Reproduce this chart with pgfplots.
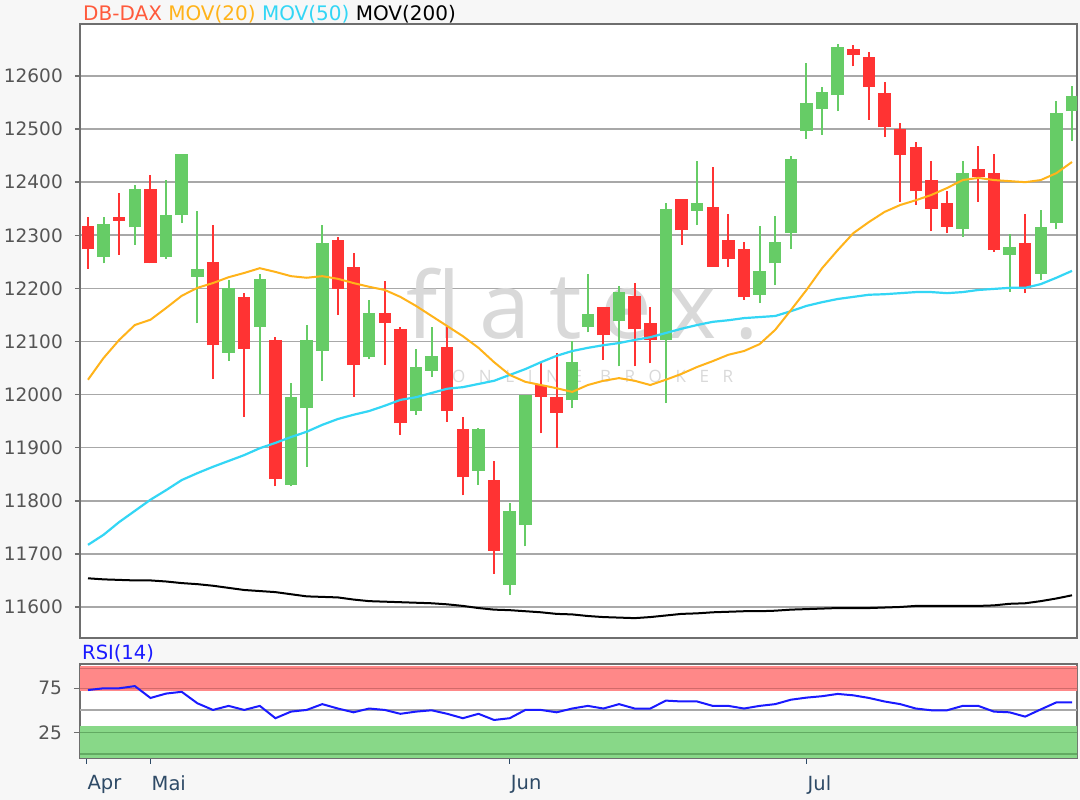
\documentclass[border=0pt]{standalone}
\usepackage{pgfplots}
\pgfplotsset{compat=1.18}
\usepackage{pgfplotstable}
\usepackage{fontspec}
\setmainfont{DejaVu Sans}
\newfontfamily\wmfont[LetterSpace=20]{Open Sans}
\newfontfamily\wmsmall[LetterSpace=80]{Open Sans}
\definecolor{bg}{HTML}{F7F7F7}
\definecolor{cgreen}{HTML}{66CC66}
\definecolor{cred}{HTML}{FF3333}
\definecolor{ma20}{HTML}{FFB31A}
\definecolor{ma50}{HTML}{33D6F5}
\definecolor{gridc}{HTML}{A8A8A8}
\definecolor{framec}{HTML}{6E6E6E}
\definecolor{tickc}{HTML}{555555}
\definecolor{xlabc}{HTML}{2E4A66}
\definecolor{ttl}{HTML}{FF5A3C}
\definecolor{rsired}{HTML}{FF8888}
\definecolor{rsiredl}{HTML}{D26A6A}
\definecolor{rsigreen}{HTML}{88D888}
\definecolor{rsigreenl}{HTML}{62AA62}
\definecolor{rsiblue}{HTML}{1A1AFF}
\definecolor{wm}{HTML}{D9D9D9}

% candles: index open high low close
\pgfplotstableread{
i o h l c
1 12260 12334 12247 12321
3 12315 12395 12282 12387
5 12259 12405 12255 12338
6 12338 12454 12323 12454
7 12222 12345 12134 12236
9 12079 12216 12064 12201
11 12127 12228 12002 12217
13 11830 12021 11827 11996
14 11974 12131 11864 12103
15 12083 12319 12026 12285
18 12070 12179 12067 12153
21 11969 12085 11962 12051
22 12045 12127 12034 12073
25 11857 11938 11830 11935
27 11641 11795 11623 11780
28 11754 11999 11714 11999
31 11989 12100 11974 12062
32 12128 12227 12117 12152
34 12139 12205 12053 12194
37 12103 12360 11984 12349
39 12346 12439 12319 12360
43 12188 12318 12172 12232
44 12247 12337 12206 12288
45 12304 12449 12274 12443
46 12497 12624 12481 12549
47 12538 12579 12489 12570
48 12564 12660 12534 12654
56 12312 12439 12297 12417
59 12263 12302 12194 12277
61 12228 12348 12215 12315
62 12323 12552 12311 12530
63 12534 12581 12478 12563
}\upcandles

\pgfplotstableread{
i o h l c
0 12318 12334 12237 12274
2 12334 12379 12263 12327
4 12387 12414 12247 12247
8 12250 12319 12029 12093
10 12183 12191 11958 12086
12 12103 12109 11827 11841
16 12292 12296 12150 12199
17 12240 12266 11996 12056
19 12153 12213 12056 12135
20 12124 12127 11924 11946
23 12089 12127 11949 11969
24 11935 11957 11810 11844
26 11840 11874 11663 11706
29 12018 12060 11927 11996
30 11995 12079 11900 11965
33 12164 12164 12066 12112
35 12186 12210 12053 12123
36 12134 12164 12059 12103
38 12368 12368 12282 12309
40 12353 12428 12241 12241
41 12292 12341 12240 12255
42 12274 12288 12179 12183
49 12650 12658 12618 12640
50 12635 12646 12518 12579
51 12567 12589 12485 12503
52 12500 12511 12363 12451
53 12466 12476 12357 12383
54 12404 12439 12308 12350
55 12360 12384 12305 12316
57 12424 12469 12363 12409
58 12417 12454 12269 12272
60 12285 12341 12191 12200
}\downcandles

% moving averages and RSI
\pgfplotstableread{
i m20 m50 m200 r
0 12028 11717 11654 73
1 12069 11736 11652 75
2 12103 11760 11651 75
3 12131 11781 11650 77.5
4 12141 11802 11650 64
5 12163 11820 11648 69
6 12186 11839 11645 71
7 12201 11852 11643 58
8 12210 11864 11640 50.4
9 12221 11875 11636 55
10 12229 11886 11632 50.4
11 12238 11899 11630 55
12 12231 11909 11628 41
13 12223 11920 11624 48.5
14 12220 11930 11620 50.4
15 12223 11943 11619 57
16 12218 11954 11618 52
17 12210 11962 11614 47.7
18 12203 11969 11611 52
19 12197 11979 11610 50.4
20 12184 11990 11609 46
21 12167 11995 11608 48.5
22 12148 12003 11607 50
23 12129 12011 11605 46
24 12110 12014 11602 41
25 12088 12020 11598 46
26 12061 12026 11595 39
27 12037 12037 11594 41
28 12024 12048 11592 50.4
29 12018 12061 11590 50.4
30 12012 12073 11587 47.7
31 12005 12082 11586 52
32 12018 12088 11583 55
33 12026 12093 11581 52
34 12031 12097 11580 57
35 12026 12103 11579 52
36 12018 12108 11581 52
37 12028 12116 11584 61
38 12039 12124 11587 60
39 12052 12131 11588 60
40 12063 12137 11590 55
41 12075 12140 11591 55
42 12082 12144 11592 52
43 12095 12146 11592 55
44 12122 12148 11593 57
45 12159 12157 11595 62
46 12197 12167 11596 64.4
47 12238 12174 11597 66
48 12272 12180 11598 68.6
49 12304 12184 11598 67
50 12325 12188 11598 64
51 12344 12189 11599 60
52 12357 12191 11600 57
53 12366 12193 11602 52
54 12376 12193 11602 50
55 12389 12191 11602 50
56 12404 12193 11602 55
57 12408 12197 11602 55
58 12404 12199 11603 48.5
59 12402 12201 11606 47.7
60 12400 12201 11607 42.8
61 12404 12208 11611 51
62 12417 12220 11616 59
63 12438 12233 11622 59
}\indic

\pgfplotsset{
  candle/.style 2 args={draw=none, no markers, forget plot,
    error bars/.cd, y dir=plus, y explicit, error mark=none,
    error bar style={draw=#1, line width=#2, line cap=butt}},
}

\begin{document}
\begin{tikzpicture}
\fill[bg] (0,0) rectangle (1080pt,800pt);

\node[anchor=base west, inner sep=0pt, font=\fontsize{20}{22}\selectfont] at (83pt,779.5pt)
  {\textcolor{ttl}{DB-DAX} \textcolor{ma20}{MOV(20)} \textcolor{ma50}{MOV(50)} \textcolor{black}{MOV(200)}};

\begin{axis}[
  at={(80pt,162pt)}, anchor=south west,
  scale only axis, width=997pt, height=614pt,
  xmin=-0.512, xmax=63.32, ymin=11541.6, ymax=12697.9,
  axis background/.style={fill=white},
  axis line style={draw=framec, line width=2pt},
  xtick=\empty,
  ytick={11600,11700,...,12600},
  scaled y ticks=false,
  ymajorgrids, grid style={draw=gridc, line width=1.6pt},
  tick align=outside, major tick length=5pt, tick pos=left,
  ytick style={draw=framec, line width=1.5pt},
  y tick label style={font=\fontsize{18.5}{20}\selectfont, text=tickc, anchor=east, inner sep=0pt, xshift=-12pt},
  /pgf/number format/assume math mode=true,
  /pgf/number format/1000 sep={},
]
\node[anchor=base west, inner sep=0pt, text=wm, font=\wmfont\fontsize{92}{92}\selectfont] at (axis cs:20.4,12105) {flatex.};
\node[anchor=base west, inner sep=0pt, text=wm, font=\wmsmall\fontsize{17}{17}\selectfont] at (axis cs:23.3,12022) {ONLINE BROKER};

% wicks
\addplot[candle={cgreen}{2pt}] table[x=i, y=l, y error plus expr=\thisrow{h}-\thisrow{l}] {\upcandles};
\addplot[candle={cred}{2pt}] table[x=i, y=l, y error plus expr=\thisrow{h}-\thisrow{l}] {\downcandles};
% bodies
\addplot[candle={cgreen}{12.5pt}] table[x=i, y=o, y error plus expr=\thisrow{c}-\thisrow{o}] {\upcandles};
\addplot[candle={cred}{12.5pt}] table[x=i, y=c, y error plus expr=\thisrow{o}-\thisrow{c}] {\downcandles};
% moving averages
\addplot[black, line width=2pt, mark=none] table[x=i, y=m200] {\indic};
\addplot[ma50, line width=2.2pt, mark=none] table[x=i, y=m50] {\indic};
\addplot[ma20, line width=2pt, mark=none] table[x=i, y=m20] {\indic};
\end{axis}

\node[anchor=base west, inner sep=0pt, text=rsiblue, font=\fontsize{19.5}{21}\selectfont] at (82pt,140pt) {RSI(14)};

\begin{axis}[
  at={(80pt,42pt)}, anchor=south west,
  scale only axis, width=997pt, height=94pt,
  xmin=-0.512, xmax=63.32, ymin=-4.2, ymax=102.6,
  axis background/.style={fill=white},
  axis line style={draw=framec, line width=2pt},
  xtick={-0.1,4,27,46}, xticklabels={Apr,Mai,Jun,Jul},
  ytick={25,75},
  extra y ticks={50}, extra y tick labels={},
  extra y tick style={grid=major, major tick length=0pt},
  grid style={draw=gridc, line width=1.6pt},
  tick align=outside, major tick length=6pt, tick pos=left,
  ytick style={draw=framec, line width=1.5pt},
  xtick style={draw=xlabc, line width=1.5pt},
  y tick label style={font=\fontsize{18.5}{20}\selectfont, text=tickc, anchor=east, inner sep=0pt, xshift=-12pt},
  x tick label style={font=\fontsize{19.5}{21}\selectfont, text=xlabc, anchor=north west, inner sep=0pt, xshift=1pt, yshift=-11pt},
  /pgf/number format/assume math mode=true,
]
\addplot[fill=rsired, draw=none, forget plot] coordinates {(-1,72.4) (64,72.4) (64,100.4) (-1,100.4)} -- cycle;
\addplot[fill=rsigreen, draw=none, forget plot] coordinates {(-1,-6) (64,-6) (64,32.2) (-1,32.2)} -- cycle;
\addplot[rsiredl, line width=1.5pt, forget plot] coordinates {(-1,75) (64,75)};
\addplot[rsiredl, line width=1.5pt, forget plot] coordinates {(-1,97.7) (64,97.7)};
\addplot[rsigreenl, line width=1.5pt, forget plot] coordinates {(-1,25) (64,25)};
\addplot[rsigreenl, line width=1.5pt, forget plot] coordinates {(-1,0.3) (64,0.3)};
\addplot[rsiblue, line width=2pt, mark=none] table[x=i, y=r] {\indic};
\end{axis}
\pgfresetboundingbox
\useasboundingbox (0,0) rectangle (1080pt,800pt);
\end{tikzpicture}
\end{document}
